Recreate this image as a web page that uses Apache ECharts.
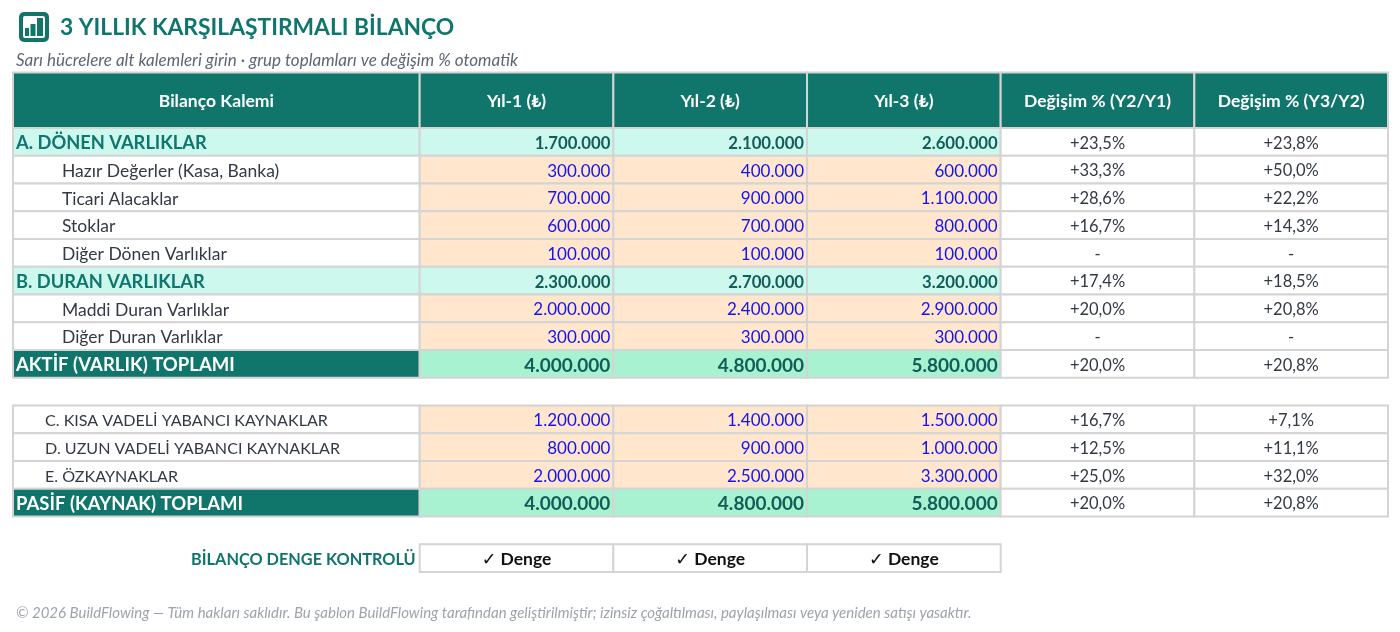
<!DOCTYPE html>
<html>
<head>
<meta charset="utf-8">
<script src="https://cdn.jsdelivr.net/npm/echarts@6/dist/echarts.min.js"></script>
<style>
html,body{margin:0;padding:0;background:#fff;}
#chart{width:1400px;height:632px;}
</style>
</head>
<body>
<div id="chart"></div>
<script>
// ---------- DATA ----------
const titleText = '3 YILLIK KARŞILAŞTIRMALI BİLANÇO';
const subtitleText = 'Sarı hücrelere alt kalemleri girin · grup toplamları ve değişim % otomatik';
const footerText = '© 2026 BuildFlowing — Tüm hakları saklıdır. Bu şablon BuildFlowing tarafından geliştirilmiştir; izinsiz çoğaltılması, paylaşılması veya yeniden satışı yasaktır.';
const headers = ['Bilanço Kalemi', 'Yıl-1 (₺)', 'Yıl-2 (₺)', 'Yıl-3 (₺)', 'Değişim % (Y2/Y1)', 'Değişim % (Y3/Y2)'];
const rowLabels = [
  'A. DÖNEN VARLIKLAR', 'Hazır Değerler (Kasa, Banka)', 'Ticari Alacaklar', 'Stoklar', 'Diğer Dönen Varlıklar',
  'B. DURAN VARLIKLAR', 'Maddi Duran Varlıklar', 'Diğer Duran Varlıklar', 'AKTİF (VARLIK) TOPLAMI',
  '',
  'C. KISA VADELİ YABANCI KAYNAKLAR', 'D. UZUN VADELİ YABANCI KAYNAKLAR', 'E. ÖZKAYNAKLAR', 'PASİF (KAYNAK) TOPLAMI'
];
const rowKinds = ['group','item','item','item','item','group','item','item','total','blank','liab','liab','liab','total'];
const year1 = [1700000, 300000, 700000, 600000, 100000, 2300000, 2000000, 300000, 4000000, null, 1200000, 800000, 2000000, 4000000];
const year2 = [2100000, 400000, 900000, 700000, 100000, 2700000, 2400000, 300000, 4800000, null, 1400000, 900000, 2500000, 4800000];
const year3 = [2600000, 600000, 1100000, 800000, 100000, 3200000, 2900000, 300000, 5800000, null, 1500000, 1000000, 3300000, 5800000];
const changeY2Y1 = [23.5, 33.3, 28.6, 16.7, null, 17.4, 20.0, null, 20.0, null, 16.7, 12.5, 25.0, 20.0];
const changeY3Y2 = [23.8, 50.0, 22.2, 14.3, null, 18.5, 20.8, null, 20.8, null, 7.1, 11.1, 32.0, 20.8];
const checkLabel = 'BİLANÇO DENGE KONTROLÜ';
const checkValues = ['✓ Denge', '✓ Denge', '✓ Denge'];

// ---------- LAYOUT / STYLE ----------
const FONT = 'Lato, "Open Sans", "DejaVu Sans", sans-serif';
const colEdges = [0, 2.1, 3.1, 4.1, 5.1, 6.1, 7.1];
const HEADER_ROWS = 2;
const TOTAL_ROWS = 18;
const C = {
  teal: '#10766c', tealText: '#0f766e', tealDark: '#115e59',
  mint: '#ccf8ee', green: '#a9f2d1', peach: '#ffe6cc',
  blue: '#1414f0', grey: '#333a45', border: '#d4d4d4'
};

function fmtNum(v) { return String(v).replace(/\B(?=(\d{3})+(?!\d))/g, '.'); }
function fmtPct(v) { return v == null ? '-' : (v >= 0 ? '+' : '') + v.toFixed(1).replace('.', ',') + '%'; }

// build cells
const cells = [];
headers.forEach((h, j) => cells.push({ c: j, r0: 0, r1: HEADER_ROWS, text: h, style: 'header', align: 'center' }));
rowKinds.forEach((kind, i) => {
  if (kind === 'blank') return;
  const r0 = HEADER_ROWS + i, r1 = r0 + 1;
  cells.push({ c: 0, r0, r1, text: rowLabels[i], style: kind + 'Label', align: 'left' });
  [year1, year2, year3].forEach((arr, k) => {
    cells.push({ c: k + 1, r0, r1, text: fmtNum(arr[i]), style: kind + 'Value', align: 'right' });
  });
  cells.push({ c: 4, r0, r1, text: fmtPct(changeY2Y1[i]), style: 'change', align: 'center' });
  cells.push({ c: 5, r0, r1, text: fmtPct(changeY3Y2[i]), style: 'change', align: 'center' });
});
const checkRow = HEADER_ROWS + rowKinds.length + 1;
cells.push({ c: 0, r0: checkRow, r1: checkRow + 1, text: checkLabel, style: 'checkLabel', align: 'right' });
checkValues.forEach((t, k) => cells.push({ c: k + 1, r0: checkRow, r1: checkRow + 1, text: t, style: 'check', align: 'center' }));

const STYLES = {
  header:     { bg: C.teal, color: '#fff', size: 17.5, weight: 'bold' },
  groupLabel: { bg: C.mint, color: C.tealText, size: 18.3, weight: 'bold', pad: 3 },
  groupValue: { bg: C.mint, color: C.tealDark, size: 16.7, weight: 'bold', pad: 3 },
  itemLabel:  { bg: '#fff', color: C.grey, size: 17.5, weight: 'normal', pad: 49 },
  itemValue:  { bg: C.peach, color: C.blue, size: 17, weight: 'normal', pad: 3 },
  liabLabel:  { bg: '#fff', color: C.grey, size: 16.1, weight: 'normal', pad: 32 },
  liabValue:  { bg: C.peach, color: C.blue, size: 17, weight: 'normal', pad: 3 },
  totalLabel: { bg: C.teal, color: '#fff', size: 18.5, weight: 'bold', pad: 3 },
  totalValue: { bg: C.green, color: C.tealDark, size: 19, weight: 'bold', pad: 3 },
  change:     { bg: '#fff', color: C.grey, size: 16.5, weight: 'normal' },
  checkLabel: { bg: null, color: C.tealText, size: 16.3, weight: 'bold', pad: 4 },
  check:      { bg: '#fff', color: '#111', size: 17.5, weight: 'bold' }
};

const chart = echarts.init(document.getElementById('chart'), null, { renderer: 'canvas' });
chart.setOption({
  animation: false,
  backgroundColor: '#fff',
  title: [
    { text: titleText, left: 55, top: 11, textStyle: { fontFamily: FONT, fontSize: 22.8, fontWeight: 'bold', color: C.tealText } },
    { text: subtitleText, left: 11, top: 47, textStyle: { fontFamily: FONT, fontSize: 17, fontStyle: 'italic', fontWeight: 'normal', color: '#5f6673' } },
    { text: footerText, left: 11, top: 601, textStyle: { fontFamily: FONT, fontSize: 15, fontStyle: 'italic', fontWeight: 'normal', color: '#9ea3ab' } }
  ],
  graphic: [
    { type: 'rect', shape: { x: 19, y: 12, width: 30, height: 30, r: 5 }, style: { fill: C.teal } },
    { type: 'rect', shape: { x: 23, y: 16, width: 22, height: 22, r: 2 }, style: { fill: '#fff' } },
    { type: 'rect', shape: { x: 25, y: 28, width: 4, height: 8 }, style: { fill: C.teal } },
    { type: 'rect', shape: { x: 30.5, y: 24, width: 5, height: 12 }, style: { fill: C.teal } },
    { type: 'rect', shape: { x: 37, y: 18, width: 6, height: 18 }, style: { fill: C.teal } }
  ],
  grid: { left: 13, right: 12, top: 72.5, height: 27.75 * TOTAL_ROWS },
  xAxis: { type: 'value', min: 0, max: colEdges[colEdges.length - 1], show: false },
  yAxis: { type: 'value', min: 0, max: TOTAL_ROWS, inverse: true, show: false },
  series: [{
    type: 'custom',
    clip: false,
    data: cells.map((c, i) => [colEdges[c.c], colEdges[c.c + 1], c.r0, c.r1, i]),
    renderItem: function (params, api) {
      const cell = cells[api.value(4)];
      const st = STYLES[cell.style];
      const p0 = api.coord([api.value(0), api.value(2)]);
      const p1 = api.coord([api.value(1), api.value(3)]);
      const x = p0[0], y = p0[1], w = p1[0] - p0[0], h = p1[1] - p0[1];
      const children = [];
      if (st.bg) {
        children.push({ type: 'rect', shape: { x, y, width: w, height: h },
          style: { fill: st.bg, stroke: C.border, lineWidth: 2 } });
      }
      let tx = x + w / 2;
      if (cell.align === 'left') tx = x + (st.pad || 0);
      if (cell.align === 'right') tx = x + w - (st.pad || 0);
      children.push({ type: 'text', style: {
        x: tx, y: y + h / 2 + 1.5, text: cell.text, fill: st.color,
        fontFamily: FONT, fontSize: st.size, fontWeight: st.weight,
        align: cell.align, verticalAlign: 'middle'
      } });
      return { type: 'group', children };
    }
  }]
});
</script>
</body>
</html>
